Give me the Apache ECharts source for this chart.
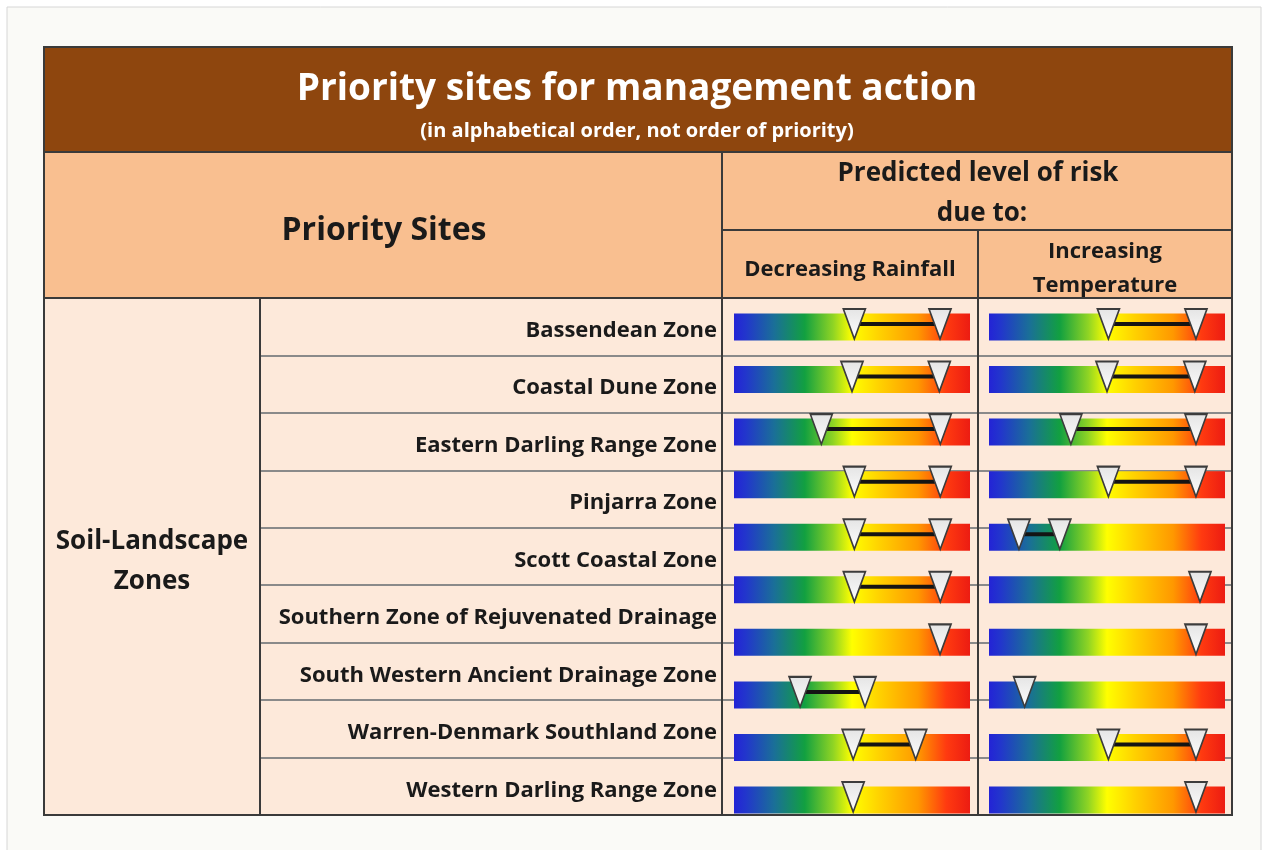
<!DOCTYPE html>
<html>
<head>
<meta charset="utf-8">
<title>Priority sites for management action</title>
<script src="https://cdn.jsdelivr.net/npm/echarts@6.0.0/dist/echarts.min.js"></script>
<style>
    html, body { margin: 0; padding: 0; background: #ffffff; }
    #chart { width: 1268px; height: 850px; }
</style>
</head>
<body>
<div id="chart"></div>
<script>
// 表格左侧的站点名称
var sites = [
    'Bassendean Zone',
    'Coastal Dune Zone',
    'Eastern Darling Range Zone',
    'Pinjarra Zone',
    'Scott Coastal Zone',
    'Southern Zone of Rejuvenated Drainage',
    'South Western Ancient Drainage Zone',
    'Warren-Denmark Southland Zone',
    'Western Darling Range Zone'
];

// 右侧的渐变条有10行（原图中条带和表格行并没有对齐）
var stripRows = ['1', '2', '3', '4', '5', '6', '7', '8', '9', '10'];
var stripFull = [100, 100, 100, 100, 100, 100, 100, 100, 100, 100];

// 风险刻度 0-100，from 为空表示只有一个三角
var rainFrom = [51, 50, 37, 51, 51, 51, null, 28, 50.5, null];
var rainTo = [87.3, 87, 87.4, 87.4, 87.4, 87.4, 87.3, 55.5, 77, 50.5];
var tempFrom = [50.6, 50, 34.7, 50.6, 12.7, null, null, null, 50.6, null];
var tempTo = [87.7, 87.2, 87.7, 87.7, 30, 89.4, 87.7, 15.1, 87.7, 87.7];

var FONT = '"Open Sans", Lato, sans-serif';

function markerData(fromArr, toArr) {
    var d = [];
    for (var i = 0; i < toArr.length; i++) {
        if (fromArr[i] != null) d.push([fromArr[i], i]);
        if (toArr[i] != null) d.push([toArr[i], i]);
    }
    return d;
}

function rangeData(fromArr, toArr) {
    var d = [];
    for (var i = 0; i < toArr.length; i++) {
        if (fromArr[i] != null && toArr[i] != null) d.push([fromArr[i], toArr[i], i]);
    }
    return d;
}

function riskGradient() {
    return new echarts.graphic.LinearGradient(0, 0, 1, 0, [
        {offset: 0, color: '#2323d6'},
        {offset: 0.05, color: '#2236cc'},
        {offset: 0.17, color: '#1a6f98'},
        {offset: 0.3, color: '#12a040'},
        {offset: 0.42, color: '#8fd424'},
        {offset: 0.5, color: '#ffff00'},
        {offset: 0.62, color: '#ffd000'},
        {offset: 0.78, color: '#ff9800'},
        {offset: 0.9, color: '#ff3a10'},
        {offset: 1, color: '#ec1c12'}
    ]);
}

function rangeLine(params, api) {
    var p1 = api.coord([api.value(0), api.value(2)]);
    var p2 = api.coord([api.value(1), api.value(2)]);
    return {
        type: 'line',
        shape: {x1: p1[0], y1: p1[1] - 3, x2: p2[0], y2: p2[1] - 3},
        style: {stroke: '#141414', lineWidth: 4}
    };
}

function stripSeries(idx, fromArr, toArr) {
    return [{
        type: 'bar',
        xAxisIndex: idx,
        yAxisIndex: idx,
        barWidth: 27,
        silent: true,
        itemStyle: {color: riskGradient()},
        data: stripFull,
        z: 2
    }, {
        type: 'custom',
        xAxisIndex: idx,
        yAxisIndex: idx,
        renderItem: rangeLine,
        encode: {x: [0, 1], y: 2},
        data: rangeData(fromArr, toArr),
        z: 3
    }, {
        type: 'scatter',
        xAxisIndex: idx,
        yAxisIndex: idx,
        symbol: 'triangle',
        symbolRotate: 180,
        symbolSize: [22, 30],
        symbolOffset: [0, -3],
        itemStyle: {
            color: new echarts.graphic.LinearGradient(0, 0, 0, 1, [
                {offset: 0, color: '#ffffff'},
                {offset: 1, color: '#e4e4e4'}
            ]),
            borderColor: '#3c3c3c',
            borderWidth: 1.8,
            opacity: 1
        },
        data: markerData(fromArr, toArr),
        z: 4
    }];
}

function txt(x, y, s, size, color) {
    return {
        type: 'text', x: x, y: y, z: 20,
        style: {
            text: s, fill: color || '#1a1a1a', font: 'bold ' + size + 'px ' + FONT,
            align: 'center', verticalAlign: 'middle'
        }
    };
}

function ln(x1, y1, x2, y2) {
    return {
        type: 'line', z: 15,
        shape: {x1: x1, y1: y1, x2: x2, y2: y2},
        style: {stroke: '#3a3a3a', lineWidth: 2}
    };
}

var chart = echarts.init(document.getElementById('chart'));

var series = [].concat(stripSeries(1, rainFrom, rainTo), stripSeries(2, tempFrom, tempTo));

var option = {
    backgroundColor: '#ffffff',
    animation: false,
    grid: [
        {left: 260, top: 298, width: 972, height: 517},
        {left: 734, top: 300.7, width: 236, height: 525.6},
        {left: 989, top: 300.7, width: 236, height: 525.6},
        // 站点名称稍微偏下一点
        {left: 260, top: 302, width: 462, height: 517}
    ],
    xAxis: [
        {type: 'value', gridIndex: 0, show: false},
        {type: 'value', gridIndex: 1, min: 0, max: 100, show: false},
        {type: 'value', gridIndex: 2, min: 0, max: 100, show: false},
        {type: 'value', gridIndex: 3, show: false}
    ],
    yAxis: [{
        // 行分隔线
        type: 'category',
        gridIndex: 0,
        data: sites,
        inverse: true,
        z: 1,
        axisLine: {show: false},
        axisTick: {show: false},
        axisLabel: {show: false},
        splitLine: {show: true, lineStyle: {color: '#8a8a8a', width: 2}}
    }, {
        type: 'category', gridIndex: 1, data: stripRows, inverse: true, show: false
    }, {
        type: 'category', gridIndex: 2, data: stripRows, inverse: true, show: false
    }, {
        type: 'category',
        gridIndex: 3,
        data: sites,
        inverse: true,
        z: 1,
        axisLine: {show: false},
        axisTick: {show: false},
        splitLine: {show: false},
        axisLabel: {
            margin: -457,
            align: 'right',
            fontFamily: FONT,
            fontWeight: 'bold',
            fontSize: 22,
            color: '#1a1a1a'
        }
    }],
    graphic: [
        {type: 'rect', z: -10, shape: {x: 7, y: 7, width: 1254, height: 860},
            style: {fill: '#fafaf7', stroke: '#d6d6d6', lineWidth: 1}},
        {type: 'rect', z: -9, shape: {x: 44, y: 47, width: 1188, height: 105}, style: {fill: '#8e460e'}},
        {type: 'rect', z: -9, shape: {x: 44, y: 152, width: 1188, height: 146}, style: {fill: '#f9bf90'}},
        {type: 'rect', z: -9, shape: {x: 44, y: 298, width: 1188, height: 517}, style: {fill: '#fde9da'}},
        {type: 'rect', z: 15, shape: {x: 44, y: 47, width: 1188, height: 768},
            style: {fill: null, stroke: '#3a3a3a', lineWidth: 2}},
        ln(44, 152, 1232, 152),
        ln(44, 298, 1232, 298),
        ln(722, 152, 722, 815),
        ln(722, 230, 1232, 230),
        ln(978, 230, 978, 815),
        ln(260, 298, 260, 815),
        txt(637, 89, 'Priority sites for management action', 37, '#ffffff'),
        txt(637, 131, '(in alphabetical order, not order of priority)', 20, '#ffffff'),
        txt(384, 231, 'Priority Sites', 32),
        txt(978, 174, 'Predicted level of risk', 26),
        txt(982, 214, 'due to:', 26),
        txt(850, 270, 'Decreasing Rainfall', 22),
        txt(1105, 252, 'Increasing', 22),
        txt(1105, 286, 'Temperature', 22),
        txt(152, 542, 'Soil-Landscape', 26),
        txt(152, 582, 'Zones', 26)
    ],
    series: series
};

chart.setOption(option);
</script>
</body>
</html>
